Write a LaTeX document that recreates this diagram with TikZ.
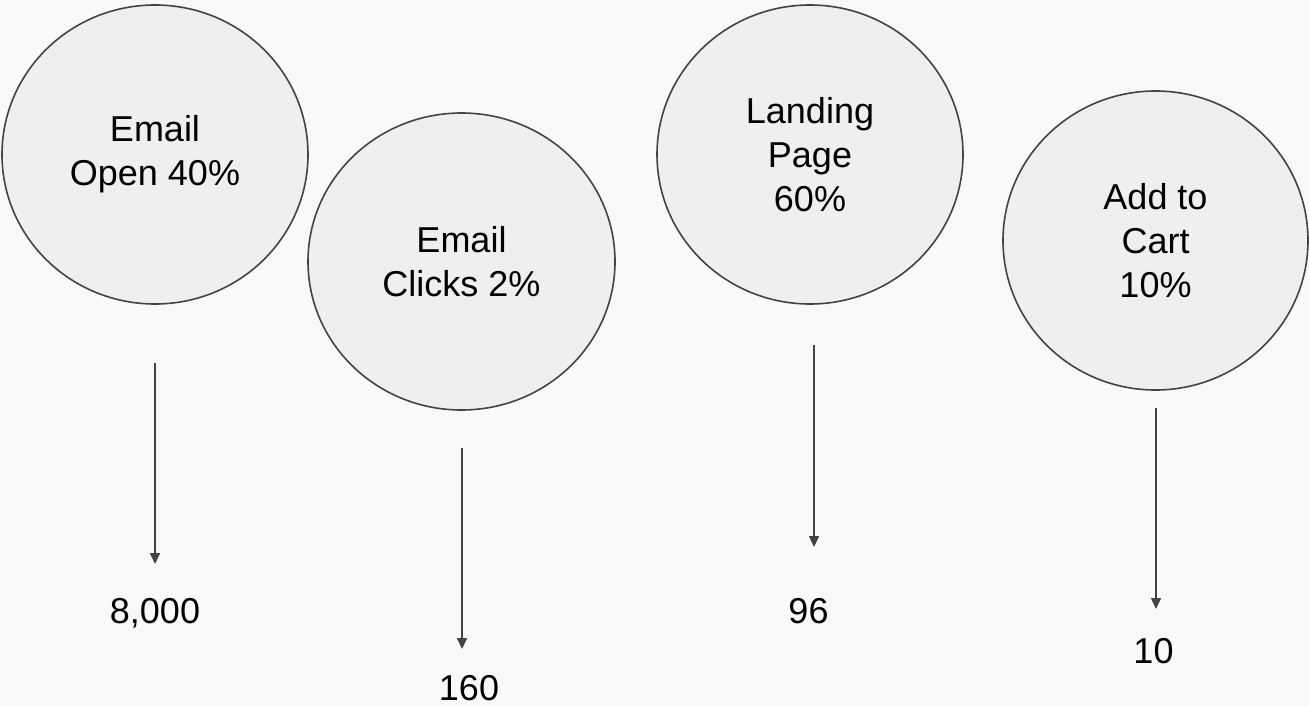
\documentclass[tikz,border=0pt]{standalone}
\usepackage{fontspec}
\setmainfont{Liberation Sans}
\usetikzlibrary{shapes.geometric,arrows.meta}
\definecolor{bg}{HTML}{F9F9F9}
\definecolor{bubblefill}{HTML}{EFEFEF}
\definecolor{strokec}{HTML}{434343}
\tikzset{
  bubble/.style={ellipse, draw=strokec, fill=bubblefill, line width=1.6pt,
    minimum width=306pt, minimum height=299pt, inner sep=0pt, align=center,
    font=\fontsize{36}{44}\selectfont, text=black},
  lbl/.style={font=\fontsize{36}{44}\selectfont, text=black, inner sep=0pt, anchor=base},
  arr/.style={draw=strokec, line width=1.6pt, -{Triangle[width=10pt,length=11pt]}}
}
\begin{document}
\begin{tikzpicture}[x=1pt,y=-1pt]
\fill[bg] (0,0) rectangle (1309,706);
\useasboundingbox (0,0) rectangle (1309,706);
% bubbles
\node[bubble] (open) at (155,154.5) {Email\\Open 40\%};
\node[bubble, minimum width=307pt, minimum height=297pt] (clicks) at (461.5,261.5) {Email\\Clicks 2\%};
\node[bubble] (landing) at (810,154.5) {Landing\\Page\\60\%};
\node[bubble, minimum width=305pt] (cart) at (1155.5,240.5) {Add to\\Cart\\10\%};
% arrow ends
\coordinate (o1) at (155,363);
\coordinate (o2) at (155,564);
\coordinate (c1) at (462,448);
\coordinate (c2) at (462,649);
\coordinate (l1) at (814,345);
\coordinate (l2) at (814,547);
\coordinate (k1) at (1156,408);
\coordinate (k2) at (1156,609);
\draw[arr] (o1) -- (o2);
\draw[arr] (c1) -- (c2);
\draw[arr] (l1) -- (l2);
\draw[arr] (k1) -- (k2);
% values
\node[lbl] (v1) at (155,623) {8,000};
\node[lbl] (v2) at (469,700) {160};
\node[lbl] (v3) at (808.5,623) {96};
\node[lbl] (v4) at (1153.5,663) {10};
\end{tikzpicture}
\end{document}
